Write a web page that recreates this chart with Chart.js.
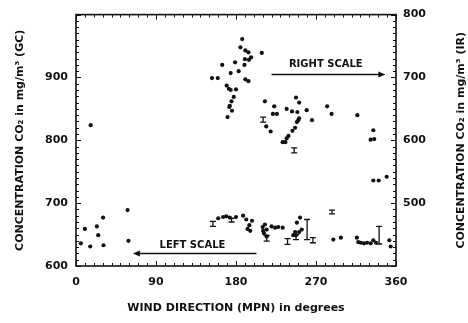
<!DOCTYPE html>
<html>
<head>
<meta charset="utf-8">
<script src="https://cdn.jsdelivr.net/npm/chart.js@4.4.1/dist/chart.umd.min.js"></script>
<style>
  html, body { margin: 0; padding: 0; background: #fff; }
  canvas { display: block; }
</style>
</head>
<body>
<canvas id="c" width="468" height="323"></canvas>
<script>
// CO2 concentration vs. wind direction.
// Gas chromatograph readings (left scale, mg/m3)
const gcDirection = [58, 30.5, 23.5, 10, 25, 5.5, 16, 31, 59,
  160, 165.5, 169, 173, 180, 188, 191.5, 198, 195, 193, 196,
  212.5, 210, 210.5, 214.5, 211.5, 214.5, 220, 224, 227.5, 232.5,
  248.5, 252, 254, 246.5, 251, 244.5, 247.5,
  289.5, 298, 316, 317.5, 320.5, 324, 327.5, 331.5, 334.5, 337.5, 352.5, 354];
const gcConc = [689, 677, 663, 659, 649, 636, 631, 633, 640,
  676, 678, 679, 677, 678, 680, 674, 672, 665, 659, 656,
  666, 662, 656, 658, 652, 647, 663, 661, 662, 661,
  669, 677, 658, 654, 654, 649, 649,
  642, 645, 645, 638, 637, 636, 637, 636, 641, 637, 641, 631];

// Infrared analyser readings (right scale, mg/m3)
const irDirection = [16.5, 187, 185, 190.5, 194, 209, 197, 194.5, 190, 164.5,
  179, 189.5, 174, 183, 190.5, 194, 153, 159.5, 169.5, 172,
  174, 180, 177.5, 175, 173, 172.5, 175.5, 170.5, 212.5, 223,
  221.5, 226, 214, 219, 247.5, 251, 237, 243, 249, 259.5,
  251, 250, 248.5, 265.5, 246.5, 243.5, 239, 237, 232.5, 235.5,
  282.5, 287.5, 316.5, 334.5, 331.5, 335.5, 334.5, 340.5, 349.5];
const irConc = [624, 761, 748, 743, 740, 739, 732, 728, 729, 720,
  724, 720, 707, 710, 697, 694, 699, 699, 687, 682,
  680, 681, 669, 662, 655, 653, 647, 637, 662, 654,
  642, 642, 622, 614, 668, 660, 650, 646, 645, 648,
  635, 632, 629, 632, 620, 615, 607, 603, 597, 597,
  654, 642, 640, 616, 601, 602, 536, 536, 542];

// Range bars: mean and half-range
const gcBarDirection = [154, 175, 214.5, 238, 247.5, 260, 266.5, 288, 341];
const gcBarMean = [667, 673, 644, 639, 646, 658, 641, 686, 649];
const gcBarHalf = [4, 3, 4.5, 4.5, 4, 16, 4, 3, 14];
const irBarDirection = [210.5, 245.5];
const irBarMean = [633, 584];
const irBarHalf = [4, 4];

// Axis ticks
const xTicks = [0, 90, 180, 270, 360];
const leftTicks = [600, 700, 800, 900];
const rightTicks = [500, 600, 700, 800];

const FONT = 'DejaVu Sans';
const INK = '#111';

function pts(xs, ys) { return xs.map((x, i) => ({ x: x, y: ys[i] })); }

// Frame with inward ticks on all four sides
const framePlugin = {
  id: 'frame',
  afterDraw(chart) {
    const { ctx, chartArea: a, scales } = chart;
    ctx.save();
    ctx.strokeStyle = INK;
    ctx.lineWidth = 1.6;
    ctx.strokeRect(a.left, a.top, a.right - a.left, a.bottom - a.top);
    ctx.lineWidth = 1;
    ctx.beginPath();
    for (let v = 0; v <= 360; v += 10) {
      const x = Math.round(scales.x.getPixelForValue(v)) + 0.5;
      const len = v % 90 === 0 ? 5 : 3;
      ctx.moveTo(x, a.bottom); ctx.lineTo(x, a.bottom - len);
      ctx.moveTo(x, a.top); ctx.lineTo(x, a.top + len);
    }
    for (let v = 600; v <= 1000; v += 10) {
      const y = Math.round(scales.yL.getPixelForValue(v)) + 0.5;
      const len = v % 100 === 0 ? 5 : 3;
      ctx.moveTo(a.left, y); ctx.lineTo(a.left + len, y);
    }
    for (let v = 400; v <= 800; v += 10) {
      const y = Math.round(scales.yR.getPixelForValue(v)) + 0.5;
      const len = v % 100 === 0 ? 5 : 3;
      ctx.moveTo(a.right, y); ctx.lineTo(a.right - len, y);
    }
    ctx.stroke();

    // right-hand axis title, reading upward
    ctx.fillStyle = INK;
    ctx.font = 'bold 11px "' + FONT + '"';
    ctx.textAlign = 'center';
    ctx.textBaseline = 'middle';
    ctx.translate(461, (a.top + a.bottom) / 2);
    ctx.rotate(-Math.PI / 2);
    ctx.fillText('CONCENTRATION CO\u2082 in mg/m\u00B3 (IR)', 0, 0);
    ctx.restore();
  }
};

// Vertical range bars with caps
const rangePlugin = {
  id: 'ranges',
  afterDatasetsDraw(chart) {
    const { ctx, scales } = chart;
    ctx.save();
    ctx.strokeStyle = INK;
    ctx.lineWidth = 1.3;
    const draw = (xs, ms, hs, yScale) => {
      xs.forEach((d, i) => {
        const x = scales.x.getPixelForValue(d);
        const y1 = yScale.getPixelForValue(ms[i] + hs[i]);
        const y2 = yScale.getPixelForValue(ms[i] - hs[i]);
        ctx.beginPath();
        ctx.moveTo(x, y1); ctx.lineTo(x, y2);
        ctx.moveTo(x - 3, y1); ctx.lineTo(x + 3, y1);
        ctx.moveTo(x - 3, y2); ctx.lineTo(x + 3, y2);
        ctx.stroke();
      });
    };
    draw(gcBarDirection, gcBarMean, gcBarHalf, scales.yL);
    draw(irBarDirection, irBarMean, irBarHalf, scales.yR);
    ctx.restore();
  }
};

// "RIGHT SCALE" / "LEFT SCALE" notes with arrows
const notesPlugin = {
  id: 'notes',
  afterDraw(chart) {
    const { ctx, scales } = chart;
    const X = v => scales.x.getPixelForValue(v);
    const Y = v => scales.yL.getPixelForValue(v);
    ctx.save();
    ctx.fillStyle = INK;
    ctx.strokeStyle = INK;
    ctx.font = 'bold 10px "' + FONT + '"';
    ctx.textAlign = 'center';
    ctx.textBaseline = 'middle';
    ctx.fillText('RIGHT SCALE', X(281), Y(920));
    ctx.fillText('LEFT SCALE', X(131), Y(633));
    ctx.lineWidth = 1.5;
    // right arrow
    let y = Math.round(Y(906)) + 0.5, x0 = X(220), x1 = X(348);
    ctx.beginPath(); ctx.moveTo(x0, y); ctx.lineTo(x1 - 5, y); ctx.stroke();
    ctx.beginPath(); ctx.moveTo(x1, y); ctx.lineTo(x1 - 7, y - 3); ctx.lineTo(x1 - 7, y + 3); ctx.closePath(); ctx.fill();
    // left arrow
    y = Math.round(Y(621)) + 0.5; x0 = X(64); x1 = X(203);
    ctx.beginPath(); ctx.moveTo(x0 + 5, y); ctx.lineTo(x1, y); ctx.stroke();
    ctx.beginPath(); ctx.moveTo(x0, y); ctx.lineTo(x0 + 7, y - 3); ctx.lineTo(x0 + 7, y + 3); ctx.closePath(); ctx.fill();
    ctx.restore();
  }
};

const tickFont = { family: FONT, size: 11, weight: 'bold' };
const titleFont = { family: FONT, size: 11, weight: 'bold' };

new Chart(document.getElementById('c'), {
  type: 'scatter',
  data: {
    datasets: [
      { label: 'GC', data: pts(gcDirection, gcConc), yAxisID: 'yL',
        backgroundColor: INK, borderColor: INK, pointRadius: 2.1, pointBorderWidth: 0 },
      { label: 'IR', data: pts(irDirection, irConc), yAxisID: 'yR',
        backgroundColor: INK, borderColor: INK, pointRadius: 2.1, pointBorderWidth: 0 }
    ]
  },
  options: {
    responsive: false,
    animation: false,
    devicePixelRatio: 1,
    layout: { padding: { top: 11, left: 0, right: 0, bottom: 0 } },
    plugins: { legend: { display: false }, tooltip: { enabled: false } },
    scales: {
      x: {
        type: 'linear', min: 0, max: 360,
        afterBuildTicks: s => { s.ticks = xTicks.map(v => ({ value: v })); },
        afterFit: s => { s.height = 57; },
        grid: { display: false, drawTicks: false },
        border: { display: false },
        ticks: { color: INK, font: tickFont, padding: 10, maxRotation: 0 },
        title: { display: true, text: 'WIND DIRECTION (MPN) in degrees', color: INK,
                 font: titleFont, padding: { top: 0, bottom: 8 } }
      },
      yL: {
        type: 'linear', position: 'left', min: 600, max: 1000,
        afterBuildTicks: s => { s.ticks = leftTicks.map(v => ({ value: v })); },
        afterFit: s => { s.width = 76; },
        grid: { display: false, drawTicks: false },
        border: { display: false },
        ticks: { color: INK, font: tickFont, padding: 8 },
        title: { display: true, text: 'CONCENTRATION CO\u2082 in mg/m\u00B3 (GC)', color: INK,
                 font: titleFont, padding: { top: 14, bottom: 0 } }
      },
      yR: {
        type: 'linear', position: 'right', min: 400, max: 800,
        afterBuildTicks: s => { s.ticks = rightTicks.map(v => ({ value: v })); },
        afterFit: s => { s.width = 72; },
        grid: { display: false, drawTicks: false },
        border: { display: false },
        ticks: { color: INK, font: tickFont, padding: 7 }
      }
    }
  },
  plugins: [rangePlugin, framePlugin, notesPlugin]
});
</script>
</body>
</html>
